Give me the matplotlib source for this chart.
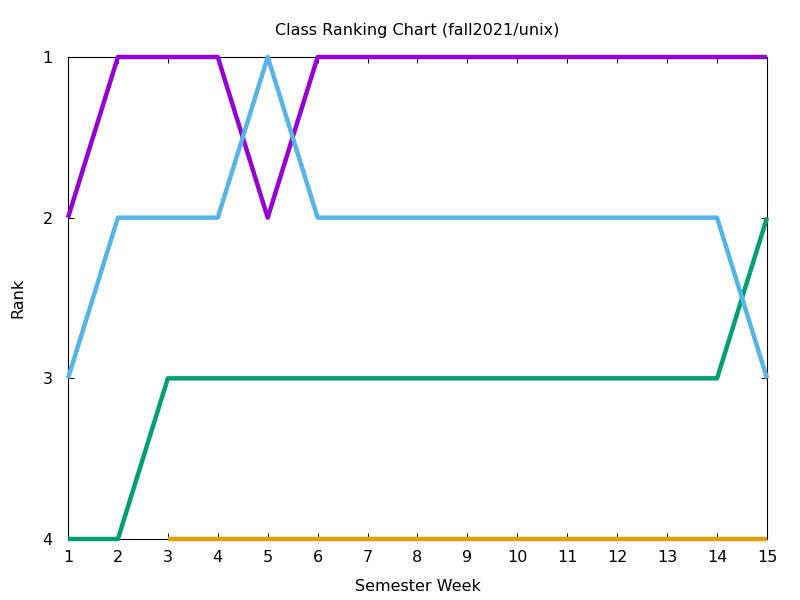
import numpy as np
import matplotlib
matplotlib.use('Agg')
import matplotlib.pyplot as plt

weeks = list(range(1, 16))
# ranks per week, nan where no data
purple = [2, 1, 1, 1, 2, 1, 1, 1, 1, 1, 1, 1, 1, 1, 1]
green = [4, 4, 3, 3, 3, 3, 3, 3, 3, 3, 3, 3, 3, 3, 2]
blue = [3, 2, 2, 2, 1, 2, 2, 2, 2, 2, 2, 2, 2, 2, 3]
orange = [np.nan, np.nan, 4, 4, 4, 4, 4, 4, 4, 4, 4, 4, 4, 4, 4]

series = [(purple, '#9400d3'), (green, '#009e73'), (blue, '#56b4e9'), (orange, '#e69f00')]

plt.rcParams['font.family'] = 'DejaVu Sans'
fig = plt.figure(figsize=(8, 6), dpi=100)
ax = fig.add_axes([0.085, 0.1017, 0.87375, 0.8033])

for vals, col in series:
    ax.plot(weeks, vals, color=col, lw=3.2, clip_on=False, zorder=3,
            solid_capstyle='butt')

ax.set_xlim(1, 15)
ax.set_ylim(4, 1)
ax.set_xticks(weeks)
ax.set_yticks([1, 2, 3, 4])
ax.tick_params(direction='in', length=4.5, width=0.7, top=True, right=True,
               labelsize=11.5)
ax.tick_params(axis='x', pad=8)
ax.tick_params(axis='y', pad=11)
for s in ax.spines.values():
    s.set_linewidth(0.8)
ax.set_title('Class Ranking Chart (fall2021/unix)', fontsize=11.5, pad=16)
ax.set_xlabel('Semester Week', fontsize=11.5, labelpad=10)
ax.set_ylabel('Rank', fontsize=11.5, labelpad=12)

fig.savefig('out.png', dpi=100)
